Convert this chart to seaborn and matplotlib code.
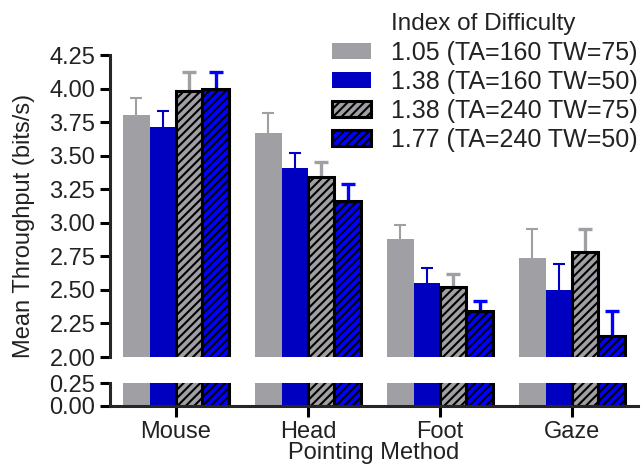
import numpy as np
import pandas as pd
import matplotlib
matplotlib.use("Agg")
import matplotlib.pyplot as plt
import seaborn as sns
from matplotlib.patches import Patch

methods = ["Mouse", "Head", "Foot", "Gaze"]
conditions = ["1.05 (TA=160 TW=75)", "1.38 (TA=160 TW=50)",
              "1.38 (TA=240 TW=75)", "1.77 (TA=240 TW=50)"]

# mean throughput (bits/s) per condition, one value per pointing method
tp_105 = [3.80, 3.67, 2.88, 2.74]
tp_138a = [3.71, 3.41, 2.55, 2.50]
tp_138b = [3.98, 3.34, 2.52, 2.78]
tp_177 = [4.00, 3.16, 2.34, 2.16]

# upper error bar length
err_105 = [0.13, 0.15, 0.10, 0.21]
err_138a = [0.12, 0.11, 0.11, 0.19]
err_138b = [0.14, 0.11, 0.10, 0.17]
err_177 = [0.12, 0.13, 0.08, 0.18]

means = [tp_105, tp_138a, tp_138b, tp_177]
errs = [err_105, err_138a, err_138b, err_177]

df = pd.DataFrame({
    "method": methods * 4,
    "cond": np.repeat(conditions, 4),
    "tp": np.concatenate(means),
})

gray = "#A0A0A4"
dblue = "#0000C0"
blue = "#0000FF"
colors = [gray, dblue, gray, blue]
hatched = [False, False, True, True]
txt = "#222222"
fs = 17

sns.set_style("ticks")
plt.rcParams["font.family"] = ["Liberation Sans", "DejaVu Sans"]
plt.rcParams["hatch.linewidth"] = 1.5

fig = plt.figure(figsize=(6.42, 4.70), dpi=100)
L, R = 110 / 642, 638 / 642
ax_top = fig.add_axes([L, 1 - 357 / 470, R - L, (357 - 55) / 470])
ax_bot = fig.add_axes([L, 1 - 405.7 / 470, R - L, (405.7 - 383.3) / 470])

for ax in (ax_top, ax_bot):
    sns.barplot(data=df, x="method", y="tp", hue="cond", order=methods,
                hue_order=conditions, palette=colors, saturation=1,
                width=0.8, legend=False, ax=ax)
    for i, cont in enumerate(ax.containers):
        for p in cont:
            if hatched[i]:
                p.set_hatch("////")
                p.set_edgecolor("black")
                p.set_linewidth(2.2)
            else:
                p.set_linewidth(0)
    ax.set_xlim(-0.5, 3.5)
    ax.set_xlabel("")
    ax.set_ylabel("")
    ax.tick_params(axis="both", direction="out", length=7, width=2.2,
                   color="black", labelsize=fs, labelcolor=txt)
    ax.spines["left"].set_linewidth(2.2)
    ax.spines["bottom"].set_linewidth(2.2)
    sns.despine(ax=ax)

# error bars (upper only): stem + cap
bar_conts = list(ax_top.containers)
for i, cont in enumerate(bar_conts):
    xs = np.array([p.get_x() + p.get_width() / 2 for p in cont])
    top = np.array(means[i]) + np.array(errs[i])
    lw = 2.4 if hatched[i] else 1.5
    ax_top.vlines(xs, means[i], top, colors=colors[i], linewidth=lw, zorder=0.5)
    ax_top.plot(xs, top, ls="none", marker="_", color=colors[i],
                markersize=10 if hatched[i] else 8.6, markeredgewidth=lw,
                zorder=0.6, clip_on=False)

ax_top.set_ylim(2.0, 4.25)
ax_top.set_yticks(np.arange(2.0, 4.26, 0.25))
ax_top.set_yticklabels([f"{v:.2f}" for v in np.arange(2.0, 4.26, 0.25)])
ax_top.spines["bottom"].set_visible(False)
ax_top.tick_params(axis="x", bottom=False, labelbottom=False)

ax_bot.set_ylim(0, 0.25)
ax_bot.set_yticks([0, 0.25])
ax_bot.set_yticklabels(["0.00", "0.25"])
ax_bot.tick_params(axis="x", length=8, pad=3)
ax_bot.set_xlabel("Pointing Method", fontsize=fs, color=txt, labelpad=-1)

fig.text(24 / 642, 1 - 226 / 470, "Mean Throughput (bits/s)", rotation=90,
         va="center", ha="center", fontsize=fs, color=txt)

handles = []
for i in range(4):
    if hatched[i]:
        handles.append(Patch(facecolor=colors[i], edgecolor="black",
                             hatch="////", linewidth=2.2))
    else:
        handles.append(Patch(facecolor=colors[i], linewidth=0))
fig.legend(handles, conditions, loc="upper left",
           bbox_to_anchor=(332 / 642, 1 - 41 / 470), frameon=False,
           fontsize=18, labelcolor=txt, borderpad=0, borderaxespad=0,
           handlelength=1.55, handleheight=0.6, handletextpad=0.8,
           labelspacing=0.2)
fig.text(391 / 642, 1 - 24 / 470, "Index of Difficulty", ha="left",
         va="center", fontsize=17.5, color=txt)

fig.savefig("out.png", dpi=100)
